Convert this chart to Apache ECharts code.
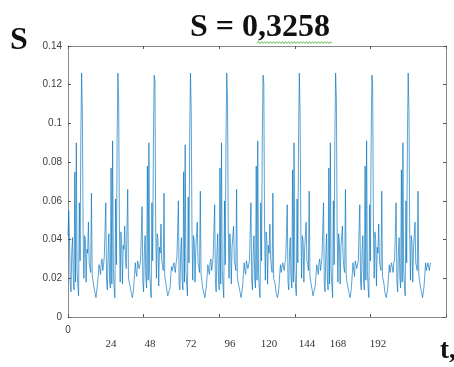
<!DOCTYPE html>
<html>
<head>
<meta charset="utf-8">
<script src="https://cdn.jsdelivr.net/npm/echarts@6/dist/echarts.min.js"></script>
<style>
  html, body { margin: 0; padding: 0; background: #fff; }
  #chart { width: 454px; height: 367px; }
</style>
</head>
<body>
<div id="chart"></div>
<script>
// Half-hourly values of S, one array per day (48 samples, t = 0, 0.5, ... 23.5 h)
const day1  = [0.042,0.055,0.040,0.017,0.013,0.034,0.041,0.020,0.014,0.075,0.018,0.090,0.024,0.016,0.011,0.059,0.029,0.094,0.126,0.106,0.045,0.020,0.042,0.040,0.018,0.035,0.033,0.049,0.028,0.027,0.023,0.064,0.022,0.019,0.016,0.014,0.012,0.010,0.011,0.017,0.021,0.027,0.025,0.022,0.028,0.030,0.024,0.027];
const day2  = [0.031,0.045,0.059,0.019,0.014,0.032,0.043,0.019,0.015,0.077,0.017,0.091,0.025,0.015,0.010,0.061,0.027,0.092,0.126,0.112,0.047,0.018,0.044,0.038,0.017,0.037,0.035,0.047,0.030,0.025,0.024,0.066,0.020,0.018,0.017,0.014,0.012,0.010,0.012,0.016,0.022,0.028,0.023,0.021,0.029,0.028,0.025,0.026];
const day3  = [0.029,0.043,0.057,0.018,0.013,0.034,0.042,0.020,0.015,0.078,0.019,0.090,0.023,0.016,0.010,0.059,0.029,0.091,0.125,0.122,0.046,0.020,0.043,0.040,0.016,0.036,0.033,0.048,0.029,0.027,0.024,0.064,0.021,0.020,0.016,0.013,0.011,0.010,0.011,0.015,0.022,0.026,0.024,0.023,0.028,0.029,0.023,0.028];
const day4  = [0.030,0.044,0.060,0.017,0.014,0.033,0.041,0.019,0.014,0.075,0.018,0.089,0.024,0.017,0.011,0.062,0.028,0.095,0.126,0.106,0.045,0.019,0.042,0.039,0.018,0.035,0.034,0.049,0.028,0.026,0.023,0.065,0.022,0.019,0.015,0.014,0.012,0.010,0.011,0.016,0.021,0.027,0.024,0.022,0.028,0.030,0.024,0.027];
const day5  = [0.031,0.045,0.058,0.018,0.013,0.033,0.043,0.020,0.014,0.077,0.017,0.090,0.025,0.016,0.010,0.060,0.027,0.092,0.126,0.112,0.046,0.020,0.043,0.038,0.017,0.036,0.035,0.047,0.029,0.027,0.024,0.066,0.021,0.018,0.016,0.014,0.012,0.010,0.011,0.016,0.022,0.028,0.024,0.022,0.029,0.029,0.025,0.026];
const day6  = [0.029,0.044,0.059,0.019,0.014,0.034,0.042,0.019,0.015,0.078,0.019,0.091,0.023,0.015,0.010,0.059,0.029,0.092,0.125,0.121,0.047,0.019,0.044,0.040,0.017,0.037,0.033,0.048,0.030,0.026,0.023,0.064,0.020,0.019,0.017,0.013,0.012,0.010,0.012,0.015,0.022,0.027,0.023,0.022,0.028,0.028,0.024,0.028];
const day7  = [0.030,0.043,0.058,0.018,0.014,0.033,0.041,0.020,0.015,0.076,0.018,0.090,0.024,0.016,0.011,0.061,0.028,0.094,0.126,0.106,0.045,0.020,0.042,0.039,0.018,0.035,0.034,0.049,0.029,0.027,0.024,0.065,0.021,0.020,0.016,0.014,0.011,0.010,0.011,0.016,0.021,0.027,0.025,0.022,0.028,0.030,0.024,0.027];
const day8  = [0.031,0.045,0.059,0.017,0.013,0.032,0.043,0.020,0.014,0.077,0.017,0.090,0.025,0.017,0.010,0.060,0.027,0.092,0.126,0.112,0.046,0.018,0.043,0.038,0.017,0.036,0.035,0.047,0.030,0.025,0.023,0.066,0.022,0.018,0.016,0.014,0.012,0.010,0.012,0.016,0.022,0.028,0.024,0.021,0.029,0.029,0.025,0.026];
const day9  = [0.029,0.044,0.058,0.018,0.014,0.034,0.042,0.019,0.014,0.078,0.019,0.091,0.024,0.015,0.010,0.058,0.029,0.091,0.125,0.121,0.046,0.020,0.044,0.040,0.016,0.036,0.033,0.048,0.029,0.026,0.024,0.065,0.021,0.019,0.017,0.013,0.012,0.010,0.011,0.015,0.021,0.027,0.023,0.023,0.028,0.029,0.023,0.028];
const day10 = [0.030,0.044,0.059,0.019,0.013,0.033,0.041,0.020,0.015,0.076,0.018,0.090,0.024,0.016,0.011,0.060,0.028,0.094,0.126,0.106,0.045,0.019,0.042,0.039,0.018,0.035,0.034,0.049,0.028,0.027,0.024,0.065,0.022,0.019,0.016,0.014,0.012,0.010,0.011,0.016,0.022,0.028,0.024,0.023,0.028,0.029,0.024,0.027];
const finalValue = 0.028;   // t = 240 h

const yTicks = [0, 0.02, 0.04, 0.06, 0.08, 0.1, 0.12, 0.14];
const dayTickLabels = ['24', '48', '72', '96', '120', '144', '168', '192'];
const titleText = 'S = 0,3258';

const days = [day1, day2, day3, day4, day5, day6, day7, day8, day9, day10];
const seriesData = [];
days.forEach((vals, d) => vals.forEach((v, k) => seriesData.push([d * 24 + k * 0.5, v])));
seriesData.push([days.length * 24, finalValue]);

const chart = echarts.init(document.getElementById('chart'), null, { renderer: 'canvas' });

const axisGray = '#8a8a8a';
const tickGray = '#555';
const serif = '"Liberation Serif", "Times New Roman", serif';
const sans = '"Liberation Sans", Arial, sans-serif';

// hand-placed day labels under the axis
const dayLabelX = [111, 150, 191, 230, 269, 307, 338, 378];
const dayLabels = dayTickLabels.map((txt, i) => ({
  type: 'text',
  x: dayLabelX[i], y: 344,
  style: { text: txt, font: '11px ' + serif, fill: '#333', align: 'center', verticalAlign: 'middle' }
}));

// spell-check style wavy underline below the digits of the title
const wave = [];
for (let x = 257, k = 0; x <= 332; x += 1.5, k++) wave.push([x, k % 2 ? 41.5 : 43.5]);

function frameAxis(extra) {
  return Object.assign({
    type: 'value',
    axisLine: { show: true, onZero: false, lineStyle: { color: axisGray, width: 1 } },
    axisTick: { show: true, inside: true, length: 3, lineStyle: { color: tickGray } },
    splitLine: { show: false }
  }, extra);
}

const option = {
  animation: false,
  grid: { left: 68, right: 8, top: 46, bottom: 50, containLabel: false },
  xAxis: [
    frameAxis({ min: 0, max: 250, interval: 50, position: 'bottom',
      axisLabel: { formatter: v => (v === 0 ? '0' : ''), color: '#404040', fontSize: 10, fontFamily: sans, margin: 8 } }),
    frameAxis({ min: 0, max: 250, interval: 50, position: 'top', axisLabel: { show: false } })
  ],
  yAxis: [
    frameAxis({ min: 0, max: 0.14, interval: 0.02, position: 'left',
      axisLabel: { formatter: v => { const m = yTicks.find(t => Math.abs(t - v) < 1e-9); return m === undefined ? '' : String(m); },
                   color: '#404040', fontSize: 10, fontFamily: sans, margin: 6 } }),
    frameAxis({ min: 0, max: 0.14, interval: 0.02, position: 'right', axisLabel: { show: false } })
  ],
  series: [{
    type: 'line',
    data: seriesData,
    showSymbol: false,
    lineStyle: { color: '#0072BD', width: 1, opacity: 0.65 },
    itemStyle: { color: '#0072BD' }
  }],
  graphic: [
    { type: 'text', x: 190, y: 12, style: { text: titleText, font: 'bold 32px ' + serif, fill: '#111' } },
    { type: 'text', x: 10, y: 25, style: { text: 'S', font: 'bold 32px ' + serif, fill: '#111' } },
    { type: 'polyline', shape: { points: wave }, style: { stroke: '#6cbf5a', lineWidth: 1, fill: null } },
    { type: 'text', x: 440, y: 338, style: { text: 't,', font: 'bold 27px ' + serif, fill: '#111' } },
    ...dayLabels
  ]
};

chart.setOption(option);
</script>
</body>
</html>
